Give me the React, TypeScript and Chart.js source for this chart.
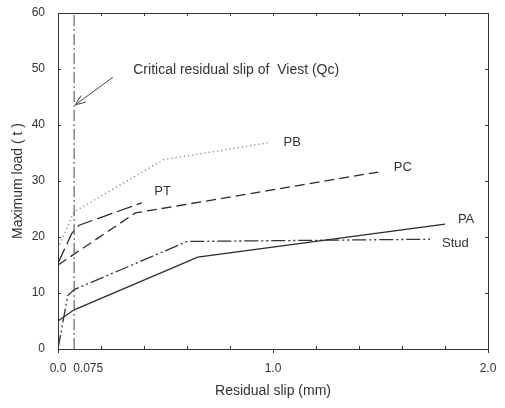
import React, { useEffect, useRef } from "react";
import { Chart, registerables } from "chart.js";

Chart.register(...registerables);

// ---- data ----
const xMajor = [0, 1, 2];
const xMinor = [0.2, 0.4, 0.6, 0.8, 1.2, 1.4, 1.6, 1.8];
const yTicks = [0, 10, 20, 30, 40, 50, 60];
const criticalSlip = 0.075;
const criticalLabel = "0.075";

const paX = [0, 0.075, 0.65, 1.8];
const paY = [5.0, 7.0, 16.4, 22.3];

const pbX = [0, 0.075, 0.49, 0.99];
const pbY = [18.0, 24.5, 33.8, 36.9];

const pcX = [0, 0.36, 1.49];
const pcY = [15.0, 24.3, 31.6];

const ptX = [0, 0.065, 0.098, 0.39];
const ptY = [15.3, 20.7, 22.1, 26.1];

const studX = [0, 0.045, 0.075, 0.6, 1.73];
const studY = [0, 9.5, 10.6, 19.2, 19.6];

const seriesNames = ["PA", "PB", "PC", "PT", "Stud"];
const seriesLabelX = [1.86, 1.049, 1.562, 0.448, 1.786];
const seriesLabelY = [23.2, 36.8, 32.5, 28.2, 18.9];

const annotationText = "Critical residual slip of  Viest (Qc)";
const annotationX = 0.35;
const annotationY = 49.8;
const arrowTail = [0.255, 48.5];
const arrowHead = [0.08, 43.6];

const FONT = "'Liberation Sans', Arial, sans-serif";
const INK = "#333333";

function pts(xs: number[], ys: number[]) {
  return xs.map((x, i) => ({ x, y: ys[i] }));
}

const overlayPlugin = {
  id: "overlay",
  afterDatasetsDraw(chart: any) {
    const { ctx, chartArea, scales } = chart;
    const xs = scales.x;
    const ys = scales.y;
    const { left, right, top, bottom } = chartArea;
    ctx.save();
    ctx.strokeStyle = INK;
    ctx.lineWidth = 1;
    // frame top & right
    ctx.beginPath();
    ctx.moveTo(left, top + 0.5);
    ctx.lineTo(right + 0.5, top + 0.5);
    ctx.lineTo(right + 0.5, bottom);
    ctx.stroke();
    // x minor ticks (inward, bottom & top)
    ctx.beginPath();
    for (const v of xMinor) {
      const px = Math.round(xs.getPixelForValue(v)) + 0.5;
      ctx.moveTo(px, bottom);
      ctx.lineTo(px, bottom - 3);
      ctx.moveTo(px, top);
      ctx.lineTo(px, top + 3);
    }
    // x major ticks (outward at bottom)
    for (const v of xMajor) {
      const px = Math.round(xs.getPixelForValue(v)) + 0.5;
      ctx.moveTo(px, bottom);
      ctx.lineTo(px, bottom + 4);
      ctx.moveTo(px, top);
      ctx.lineTo(px, top + 3);
    }
    // y ticks inward left & right
    for (const v of yTicks) {
      const py = Math.round(ys.getPixelForValue(v)) + 0.5;
      ctx.moveTo(left, py);
      ctx.lineTo(left + 3, py);
      ctx.moveTo(right, py);
      ctx.lineTo(right - 3, py);
    }
    ctx.stroke();

    // 0.075 tick label
    ctx.fillStyle = INK;
    ctx.font = `12px ${FONT}`;
    ctx.textAlign = "left";
    ctx.textBaseline = "middle";
    ctx.fillText(criticalLabel, xs.getPixelForValue(criticalSlip) - 1, bottom + 20);

    // series labels
    ctx.font = `13px ${FONT}`;
    seriesNames.forEach((n, i) => {
      ctx.fillText(n, xs.getPixelForValue(seriesLabelX[i]), ys.getPixelForValue(seriesLabelY[i]));
    });

    // annotation
    ctx.font = `14px ${FONT}`;
    ctx.fillText(annotationText, xs.getPixelForValue(annotationX), ys.getPixelForValue(annotationY));
    const tx = xs.getPixelForValue(arrowTail[0]);
    const ty = ys.getPixelForValue(arrowTail[1]);
    const hx = xs.getPixelForValue(arrowHead[0]);
    const hy = ys.getPixelForValue(arrowHead[1]);
    const ang = Math.atan2(hy - ty, hx - tx);
    const L = 11;
    const spread = 0.38;
    ctx.strokeStyle = "#444";
    ctx.beginPath();
    ctx.moveTo(tx, ty);
    ctx.lineTo(hx, hy);
    ctx.moveTo(hx - L * Math.cos(ang - spread), hy - L * Math.sin(ang - spread));
    ctx.lineTo(hx, hy);
    ctx.lineTo(hx - L * Math.cos(ang + spread), hy - L * Math.sin(ang + spread));
    ctx.stroke();
    ctx.restore();
  },
};

export default function App() {
  const ref = useRef<HTMLCanvasElement>(null);
  useEffect(() => {
    if (!ref.current) return;
    const lineStyle = (dash: number[], color = "#2b2b2b", width = 1.3) => ({
      borderColor: color,
      borderWidth: width,
      borderDash: dash,
      pointRadius: 0,
      tension: 0,
      fill: false,
      showLine: true,
    });
    const chart = new Chart(ref.current, {
      type: "line",
      data: {
        datasets: [
          { label: "Critical", data: pts([criticalSlip, criticalSlip], [0, 60]), ...lineStyle([11, 3, 2, 3], "#555", 1.1) },
          { label: "PA", data: pts(paX, paY), ...lineStyle([]) },
          { label: "PB", data: pts(pbX, pbY), ...lineStyle([1.2, 3], "#8a8a8a", 1.4) },
          { label: "PC", data: pts(pcX, pcY), ...lineStyle([10, 5]) },
          { label: "PT", data: pts(ptX, ptY), ...lineStyle([16, 5]) },
          { label: "Stud", data: pts(studX, studY), ...lineStyle([14, 3, 2, 3, 2, 3], "#333", 1.3) },
        ] as any,
      },
      options: {
        responsive: false,
        animation: false,
        parsing: true,
        layout: { padding: { left: 0, right: 17, top: 13, bottom: 0 } },
        plugins: { legend: { display: false }, tooltip: { enabled: false } },
        scales: {
          x: {
            type: "linear",
            min: 0,
            max: 2,
            afterBuildTicks: (s: any) => {
              s.ticks = xMajor.map((v) => ({ value: v }));
            },
            afterFit: (s: any) => {
              s.height = 59;
            },
            ticks: {
              autoSkip: false,
              maxRotation: 0,
              padding: 4,
              color: INK,
              font: { size: 12, family: FONT },
              callback: (v: any) => Number(v).toFixed(1),
            },
            grid: { display: false },
            border: { display: true, color: INK, width: 1 },
            title: {
              display: true,
              text: "Residual slip (mm)",
              color: INK,
              font: { size: 14, family: FONT },
              padding: { top: 0, bottom: 8 },
            },
          },
          y: {
            type: "linear",
            min: 0,
            max: 60,
            afterBuildTicks: (s: any) => {
              s.ticks = yTicks.map((v) => ({ value: v }));
            },
            afterFit: (s: any) => {
              s.width = 58;
            },
            ticks: {
              padding: 5,
              color: INK,
              font: { size: 12, family: FONT },
              callback: (v: any) => String(v),
            },
            grid: { display: false },
            border: { display: true, color: INK, width: 1 },
            title: {
              display: true,
              text: "Maximum load ( t )",
              color: INK,
              font: { size: 14, family: FONT },
              padding: { top: 10, bottom: 0 },
            },
          },
        },
      } as any,
      plugins: [overlayPlugin],
    });
    return () => chart.destroy();
  }, []);
  return (
    <div style={{ position: "fixed", left: 0, top: 0, width: 505, height: 408, background: "#fff" }}>
      <canvas ref={ref} width={505} height={408} style={{ width: 505, height: 408 }} />
    </div>
  );
}
